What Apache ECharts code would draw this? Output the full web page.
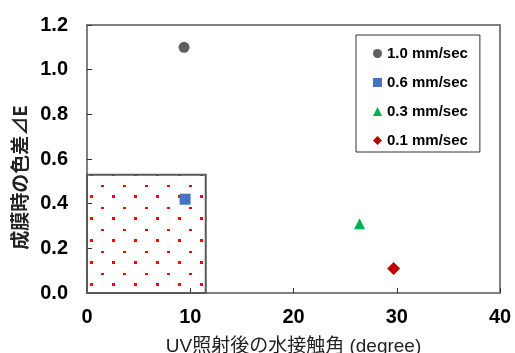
<!DOCTYPE html>
<html>
<head>
<meta charset="utf-8">
<script src="https://cdn.jsdelivr.net/npm/echarts@6/dist/echarts.min.js"></script>
<style>
  html, body { margin: 0; padding: 0; background: #fff; }
  #chart { width: 515px; height: 353px; }
</style>
</head>
<body>
<div id="chart"></div>
<script>
  const seriesNames = ['1.0 mm/sec', '0.6 mm/sec', '0.3 mm/sec', '0.1 mm/sec'];
  const contactAngle = [9.4, 9.5, 26.4, 29.7];
  const colorDiff = [1.1, 0.42, 0.31, 0.11];
  const shadeBox = [11.5, 0.53]; // 右上の角 (x, y)

  const symbols = ['circle', 'rect', 'triangle', 'diamond'];
  const colors = ['#5f5f5f', '#4472c4', '#00b050', '#c00000'];

  // 赤い点のパターン
  const tile = document.createElement('canvas');
  tile.width = 22;
  tile.height = 22;
  const ctx = tile.getContext('2d');
  ctx.fillStyle = '#ff0000';
  ctx.fillRect(2, 19, 3, 3);
  ctx.fillRect(13, 9, 3, 2);

  const chart = echarts.init(document.getElementById('chart'));

  const series = seriesNames.map((name, i) => ({
    name: name,
    type: 'scatter',
    z: 3,
    symbol: symbols[i],
    symbolSize: symbols[i] === 'diamond' ? 13 : 11,
    itemStyle: { color: colors[i], opacity: 1 },
    data: [[contactAngle[i], colorDiff[i]]]
  }));

  series.unshift({
    type: 'scatter',
    z: 1,
    data: [],
    silent: true,
    markArea: {
      silent: true,
      itemStyle: {
        color: { image: tile, repeat: 'repeat' },
        borderColor: '#595959',
        borderWidth: 2,
        opacity: 1
      },
      data: [[{ coord: [0, 0] }, { coord: shadeBox }]]
    }
  });

  const op = {
    animation: false,
    grid: {
      left: 87,
      right: 15,
      top: 25,
      bottom: 60,
      outerBoundsMode: 'none',
      show: true,
      borderColor: '#808080',
      borderWidth: 2
    },
    legend: {
      orient: 'vertical',
      left: 356,
      top: 35,
      padding: [11, 12, 4, 17],
      itemGap: 14,
      itemWidth: 9,
      itemHeight: 9,
      selectedMode: false,
      borderColor: '#333',
      borderWidth: 1,
      data: seriesNames,
      textStyle: {
        color: '#000',
        fontFamily: 'Liberation Sans',
        fontWeight: 'bold',
        fontSize: 15
      }
    },
    xAxis: {
      type: 'value',
      min: 0,
      max: 40,
      interval: 10,
      name: 'UV照射後の水接触角 (degree)',
      nameLocation: 'middle',
      nameGap: 44,
      nameTextStyle: {
        color: '#222',
        fontFamily: 'Liberation Sans, Noto Sans CJK JP',
        fontSize: 19
      },
      axisLine: { lineStyle: { color: '#808080', width: 2 } },
      axisTick: { inside: true, length: 5, lineStyle: { color: '#333' } },
      splitLine: { show: false },
      axisLabel: {
        margin: 14,
        color: '#000',
        fontFamily: 'Liberation Sans',
        fontWeight: 'bold',
        fontSize: 20
      }
    },
    yAxis: {
      type: 'value',
      min: 0,
      max: 1.2,
      interval: 0.2,
      name: '成膜時の色差⊿E',
      nameLocation: 'middle',
      nameGap: 57,
      nameTextStyle: {
        color: '#222',
        fontFamily: 'Noto Sans CJK JP',
        fontWeight: 'bold',
        fontSize: 19,
        padding: [0, 37, 0, 0]
      },
      axisLine: { lineStyle: { color: '#808080', width: 2 } },
      axisTick: { inside: true, length: 5, lineStyle: { color: '#333' } },
      splitLine: { show: false },
      axisLabel: {
        margin: 19,
        color: '#000',
        fontFamily: 'Liberation Sans',
        fontWeight: 'bold',
        fontSize: 20,
        formatter: v => v.toFixed(1)
      }
    },
    series: series
  };

  chart.setOption(op, true);
</script>
</body>
</html>
